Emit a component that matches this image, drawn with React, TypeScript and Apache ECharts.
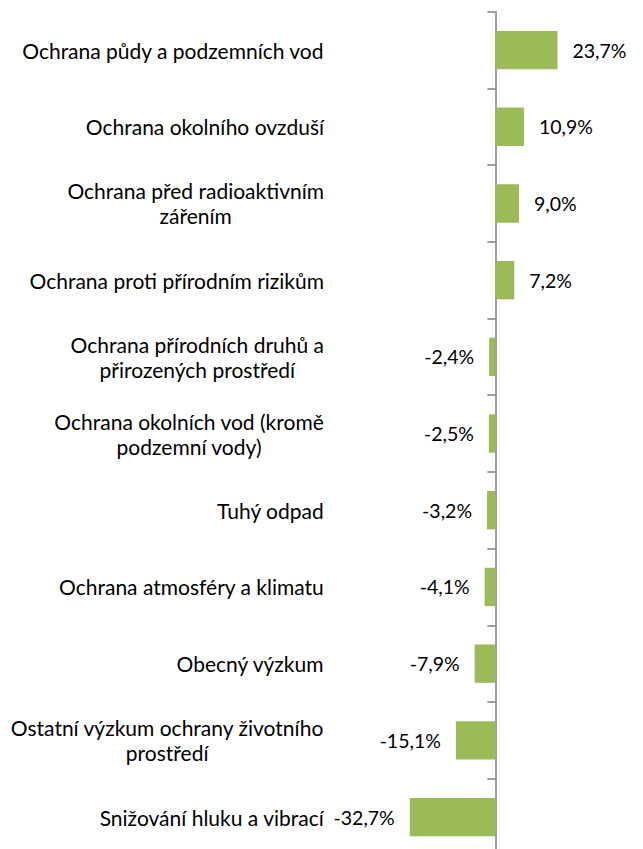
import React, { useEffect, useRef } from "react";
import * as echarts from "echarts";

const categories = [
  "Ochrana půdy a podzemních vod",
  "Ochrana okolního ovzduší",
  "Ochrana před radioaktivním\nzářením",
  "Ochrana proti přírodním rizikům",
  "Ochrana přírodních druhů a\npřirozených prostředí",
  "Ochrana okolních vod (kromě\npodzemní vody)",
  "Tuhý odpad",
  "Ochrana atmosféry a klimatu",
  "Obecný výzkum",
  "Ostatní výzkum ochrany životního\nprostředí",
  "Snižování hluku a vibrací",
];

const values = [23.7, 10.9, 9.0, 7.2, -2.4, -2.5, -3.2, -4.1, -7.9, -15.1, -32.7];

const FONT = "Lato";
const FS = 21;
const VFS = 19.5;

export default function App() {
  const ref = useRef<HTMLDivElement>(null);
  useEffect(() => {
    if (!ref.current) return;
    const chart = echarts.init(ref.current, null, { renderer: "svg" });
    const axisColor = "#878787";
    chart.setOption({
      animation: false,
      grid: {
        left: 333,
        top: 11.7,
        width: 293.4,
        height: 843.7,
        outerBoundsMode: "none",
        containLabel: false,
      },
      xAxis: {
        type: "value",
        min: -62,
        max: 50,
        show: false,
        splitLine: { show: false },
      },
      yAxis: [
        {
          type: "category",
          data: categories,
          inverse: true,
          position: "left",
          axisLine: { show: false, onZero: false },
          axisTick: { show: false },
          axisLabel: {
            margin: 9,
            color: "#000",
            fontFamily: FONT,
            fontSize: FS,
            align: "right",
            lineHeight: 25,
            formatter: (v: string) =>
              v
                .split("\n")
                .map((l) => "{c|" + l + "}")
                .join("\n"),
            rich: {
              c: {
                align: "center",
                color: "#000",
                fontFamily: FONT,
                fontSize: FS,
                lineHeight: 25,
              },
            },
          },
        },
        {
          type: "category",
          data: categories,
          inverse: true,
          position: "right",
          axisLine: { show: true, onZero: true, lineStyle: { color: axisColor, width: 1.6 } },
          axisTick: { show: true, inside: true, length: 8, lineStyle: { color: axisColor, width: 1.6 } },
          axisLabel: { show: false },
        },
      ],
      series: [
        {
          type: "bar",
          yAxisIndex: 0,
          barCategoryGap: "50%",
          itemStyle: { color: "#9BBB59" },
          data: values.map((v) => ({
            value: v,
            label: { position: v < 0 ? "left" : "right" },
          })),
          label: {
            show: true,
            distance: 15,
            color: "#000",
            fontFamily: FONT,
            fontSize: VFS,
            formatter: (p: any) => p.value.toFixed(1).replace(".", ",") + "%",
          },
        },
      ],
    });
    return () => chart.dispose();
  }, []);
  return (
    <div
      ref={ref}
      style={{ position: "fixed", left: 0, top: 0, width: 643, height: 849, background: "#fff" }}
    />
  );
}
